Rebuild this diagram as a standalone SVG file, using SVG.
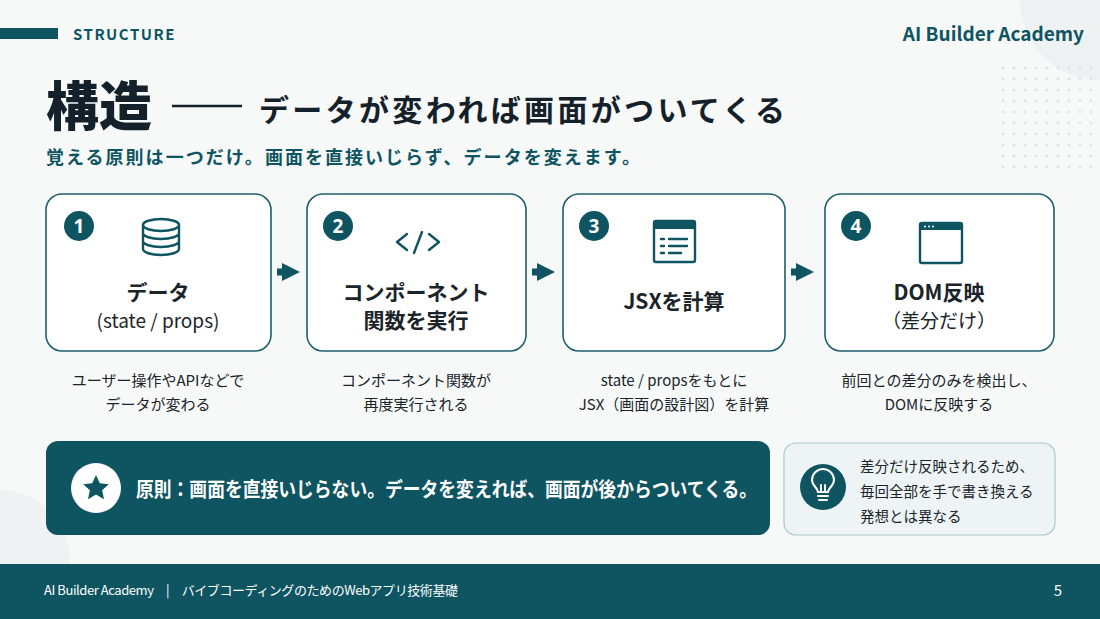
<svg xmlns="http://www.w3.org/2000/svg" width="1100" height="619" viewBox="0 0 1100 619">
<defs>
<style>
.t{font-family:"Noto Sans CJK JP","Noto Sans",sans-serif}
.box{fill:#ffffff;stroke:#1d5f6b;stroke-width:1.6}
.num{fill:#0e5461}
.numt{font-family:"Noto Sans","Noto Sans CJK JP",sans-serif;font-weight:700;font-size:19px;fill:#fff;text-anchor:middle}
.lab{font-family:"Noto Sans CJK JP","Noto Sans",sans-serif;font-weight:700;font-size:21px;fill:#1a2429;text-anchor:middle}
.lab2{font-family:"Noto Sans CJK JP","Noto Sans",sans-serif;font-weight:400;font-size:19px;fill:#1a2429;text-anchor:middle}
.desc{font-family:"Noto Sans CJK JP","Noto Sans",sans-serif;font-size:15px;fill:#1a2429;text-anchor:middle}
.ico{fill:none;stroke:#0e5461;stroke-width:2.4;stroke-linecap:round;stroke-linejoin:round}
.dot{fill:#dde3e4}
</style>
<marker id="ah" viewBox="0 0 10 10" refX="5" refY="5" markerWidth="2.6" markerHeight="3" orient="auto"><path d="M0,0 L10,5 L0,10 z" fill="#0e5461"/></marker>
<pattern id="dots" width="11" height="11" patternUnits="userSpaceOnUse"><circle cx="2" cy="2" r="1.4" class="dot"/></pattern>
</defs>
<rect width="1100" height="619" fill="#f7f9f9"/>
<circle cx="1100" cy="0" r="80" fill="#eef1f1"/>
<circle cx="0" cy="560" r="70" fill="#eff2f2"/>
<rect x="1000" y="66" width="92" height="105" fill="url(#dots)"/>

<rect x="0" y="28" width="58" height="11" fill="#0e5461"/>
<text x="73" y="40" class="t" font-size="15" font-weight="700" fill="#0e5461" letter-spacing="1.5">STRUCTURE</text>
<text x="1084" y="41" class="t" font-size="19" font-weight="700" fill="#0e5461" text-anchor="end">AI Builder Academy</text>

<text x="46" y="126" class="t" font-size="53" font-weight="900" fill="#15212a">構造</text>
<line x1="172" y1="106" x2="242" y2="106" stroke="#15212a" stroke-width="2.5"/>
<text x="259" y="121" class="t" font-size="30" font-weight="700" fill="#15212a" textLength="526">データが変われば画面がついてくる</text>
<text x="46" y="164" class="t" font-size="18" font-weight="700" fill="#0e5461" textLength="594">覚える原則は一つだけ。画面を直接いじらず、データを変えます。</text>

<g id="node1">
<rect x="46" y="194" width="225" height="157" rx="16" class="box"/>
<circle cx="79" cy="226" r="15" class="num"/><text x="79" y="233" class="numt">1</text>
<g class="ico"><ellipse cx="161" cy="225" rx="18" ry="6"/><path d="M143,225 v24 a18,6 0 0 0 36,0 v-24 M143,233 a18,6 0 0 0 36,0 M143,241 a18,6 0 0 0 36,0"/></g>
<text x="158" y="300" class="lab">データ</text>
<text x="158" y="328" class="lab2">(state / props)</text>
<text x="158" y="386" class="desc">ユーザー操作やAPIなどで</text>
<text x="158" y="410" class="desc">データが変わる</text>
</g>
<g id="node2">
<rect x="307" y="194" width="219" height="157" rx="16" class="box"/>
<circle cx="338" cy="226" r="15" class="num"/><text x="338" y="233" class="numt">2</text>
<g class="ico"><path d="M407,234 l-10,8 l10,8 M429,234 l10,8 l-10,8 M422,232 l-8,21"/></g>
<text x="416" y="300" class="lab">コンポーネント</text>
<text x="416" y="328" class="lab">関数を実行</text>
<text x="416" y="386" class="desc">コンポーネント関数が</text>
<text x="416" y="410" class="desc">再度実行される</text>
</g>
<g id="node3">
<rect x="563" y="194" width="222" height="157" rx="16" class="box"/>
<circle cx="594" cy="226" r="15" class="num"/><text x="594" y="233" class="numt">3</text>
<rect x="654" y="221" width="41" height="41" rx="2" class="ico"/>
<rect x="654" y="221" width="41" height="8" fill="#0e5461"/>
<g class="ico" stroke-width="2.2"><path d="M661,239 h3 M669,239 h18 M661,246 h3 M669,246 h18 M661,253 h3 M669,253 h12"/></g>
<text x="674" y="309" class="lab">JSXを計算</text>
<text x="674" y="386" class="desc">state / propsをもとに</text>
<text x="674" y="410" class="desc">JSX（画面の設計図）を計算</text>
</g>
<g id="node4">
<rect x="825" y="194" width="229" height="157" rx="16" class="box"/>
<circle cx="856" cy="226" r="15" class="num"/><text x="856" y="233" class="numt">4</text>
<rect x="920" y="223" width="42" height="40" rx="2" class="ico"/>
<rect x="920" y="223" width="42" height="7" fill="#0e5461"/>
<g fill="#fff"><circle cx="925" cy="226.5" r="1"/><circle cx="929" cy="226.5" r="1"/><circle cx="933" cy="226.5" r="1"/></g>
<text x="939" y="300" class="lab">DOM反映</text>
<text x="939" y="328" class="lab2">（差分だけ）</text>
<text x="939" y="386" class="desc">前回との差分のみを検出し、</text>
<text x="939" y="410" class="desc">DOMに反映する</text>
</g>

<g id="connectors" stroke="#0e5461" stroke-width="7" marker-end="url(#ah)">
<line x1="277" y1="272" x2="291" y2="272"/>
<line x1="532" y1="272" x2="546" y2="272"/>
<line x1="791" y1="272" x2="805" y2="272"/>
</g>

<g id="principle">
<rect x="46" y="441" width="724" height="94" rx="12" fill="#0e5461"/>
<circle cx="96" cy="488" r="25" fill="#fff"/>
<path d="M96,475 l3.8,8.2 l9,1 l-6.7,6.1 l1.9,8.9 l-8,-4.6 l-8,4.6 l1.9,-8.9 l-6.7,-6.1 l9,-1 z" fill="#0e5461"/>
<text x="136" y="497" class="t" font-size="20" font-weight="700" fill="#fff" textLength="621" lengthAdjust="spacingAndGlyphs">原則：画面を直接いじらない。データを変えれば、画面が後からついてくる。</text>
</g>
<g id="note">
<rect x="784" y="443" width="271" height="92" rx="12" fill="#eef4f5" stroke="#a9c8cc" stroke-width="1.2"/>
<circle cx="823" cy="487" r="23" fill="#0e5461"/>
<g fill="none" stroke="#fff" stroke-width="2" stroke-linecap="round"><path d="M818,492 c0,-4 -6,-6 -6,-12 a11,11 0 0 1 22,0 c0,6 -6,8 -6,12 z M818,496 h10 M819,500 h8 M821,492 v-7 M825,492 v-7"/></g>
<text x="860" y="472" class="t" font-size="14.5" fill="#1a2429">差分だけ反映されるため、</text>
<text x="860" y="497" class="t" font-size="14.5" fill="#1a2429">毎回全部を手で書き換える</text>
<text x="860" y="522" class="t" font-size="14.5" fill="#1a2429">発想とは異なる</text>
</g>

<rect x="0" y="564" width="1100" height="55" fill="#0e5461"/>
<text x="44" y="595" class="t" font-size="13" fill="#fff" textLength="414">AI Builder Academy　|　バイブコーディングのためのWebアプリ技術基礎</text>
<text x="1058" y="596" class="t" font-size="15" fill="#fff" text-anchor="middle">5</text>
</svg>
